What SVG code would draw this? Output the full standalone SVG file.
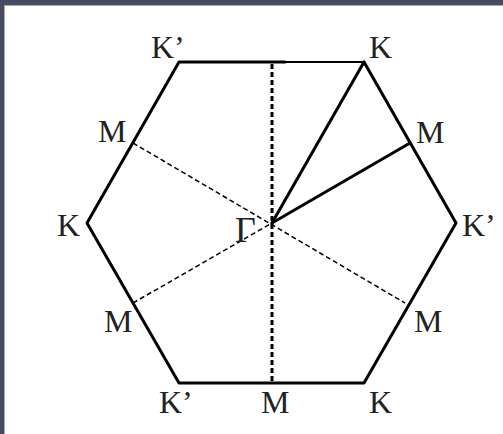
<svg xmlns="http://www.w3.org/2000/svg" width="503" height="434" viewBox="0 0 503 434">
<style>
.lbl{font-family:"Liberation Serif","Times New Roman",serif;font-size:32px;fill:#222}
.edge{stroke:#000;stroke-width:3;fill:none;stroke-linecap:round;stroke-linejoin:round}
.dash{stroke:#000;stroke-width:1.5;stroke-dasharray:5 3;fill:none}
.vdash{stroke:#000;stroke-width:3;stroke-dasharray:5 3;fill:none}
.ray{stroke:#000;stroke-width:3;fill:none;stroke-linecap:round}
</style>
<rect x="0" y="0" width="503" height="434" fill="#464b5e"/>
<rect x="4" y="5" width="499" height="429" fill="#a8a8b2"/>
<rect x="5" y="6" width="498" height="428" fill="#ffffff"/>
<g id="hexagon">
<polyline class="edge" points="285,62 179,62 87,223 179,383 364,383 456,223 364,62"/>
<line x1="285" y1="62" x2="364" y2="62" stroke="#000" stroke-width="2"/>
</g>
<g id="connectors">
<line class="vdash" x1="272" y1="64" x2="272" y2="383"/>
<line class="dash" x1="133" y1="143" x2="405" y2="303"/>
<line class="dash" x1="133" y1="303" x2="272" y2="223"/>
<line class="ray" x1="272" y1="223" x2="364" y2="62"/>
<line class="ray" x1="272" y1="223" x2="410" y2="143"/>
</g>
<g id="labels">
<text class="lbl" x="151" y="58">K’</text>
<text class="lbl" x="369" y="58">K</text>
<text class="lbl" x="98" y="142">M</text>
<text class="lbl" x="416" y="143">M</text>
<text class="lbl" x="57" y="236">K</text>
<text class="lbl" x="235" y="242" style="font-size:36px">Γ</text>
<text class="lbl" x="462" y="236">K’</text>
<text class="lbl" x="104" y="332">M</text>
<text class="lbl" x="414" y="332">M</text>
<text class="lbl" x="159" y="413">K’</text>
<text class="lbl" x="261" y="413">M</text>
<text class="lbl" x="369" y="413">K</text>
</g>
</svg>
